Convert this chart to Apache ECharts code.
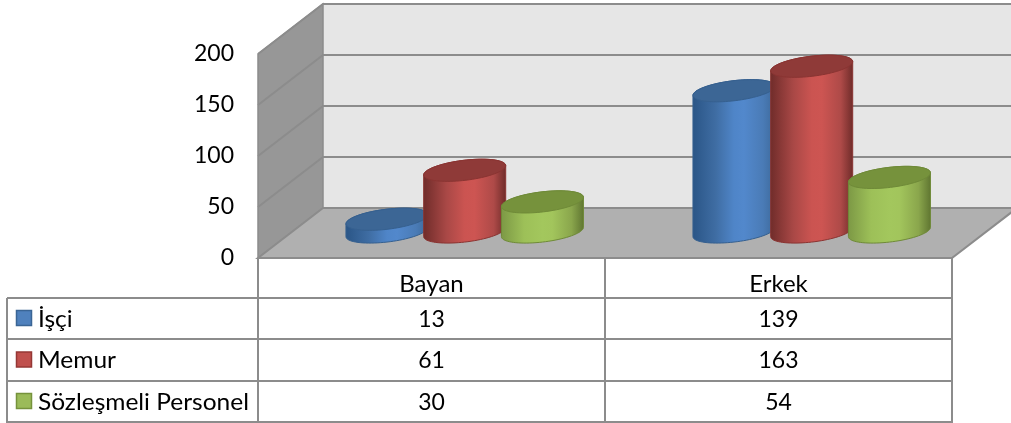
<!DOCTYPE html>
<html lang="tr">
<head>
    <meta charset="utf-8">
    <title>Personel</title>
    <style>
        html, body { margin: 0; padding: 0; background: #fff; }
        #main { width: 1011px; height: 423px; }
    </style>
    <script src="https://cdn.jsdelivr.net/npm/echarts@6/dist/echarts.min.js"></script>
</head>
<body>
<div id="main"></div>
<script type="text/javascript">
    var categories = ['Bayan', 'Erkek'];
    var seriesNames = ['İşçi', 'Memur', 'Sözleşmeli Personel'];
    var isciValues = [13, 139];
    var memurValues = [61, 163];
    var sozlesmeliValues = [30, 54];
    var yTicks = [0, 50, 100, 150, 200];

    var FONT = 'Lato';
    var FONT_SIZE = 23;
    var gridLine = '#8c8c8c';

    // front edge of the floor, the walls sit behind it
    var gridLeft = 258, gridTop = 54, gridW = 694, gridH = 204;
    var depthX = 65, depthY = -50;

    // table rows
    var tableLeft = 7;
    var rowY = [298, 339, 381, 422];
    var colX = [258, 605, 952];

    var skins = [
        {
            top: '#3c6695', edge: '#36608f', swatch: '#4f81bd', swatchEdge: '#3a6595',
            body: ['#2a5586', '#3f6da3', '#4f85c8', '#5288cc', '#4a7bb6', '#3c6899']
        },
        {
            top: '#8f3a38', edge: '#8a3432', swatch: '#c0504d', swatchEdge: '#953735',
            body: ['#6f2c2a', '#a94846', '#cb5451', '#cd5552', '#ae4a48', '#6e2b29']
        },
        {
            top: '#76923c', edge: '#6f8a38', swatch: '#9bbb59', swatchEdge: '#76923c',
            body: ['#7c9845', '#9dc058', '#a3c75d', '#a2c55c', '#8aa64c', '#5f7531']
        }
    ];

    // one point on the tilted ellipse at angle t
    function ellipsePoint(cx, cy, rx, ry, tilt, t) {
        var a = rx * Math.cos(t), b = ry * Math.sin(t);
        return [
            cx + a * Math.cos(tilt) - b * Math.sin(tilt),
            cy - a * Math.sin(tilt) - b * Math.cos(tilt)
        ];
    }

    function cylinder(seriesIndex) {
        var skin = skins[seriesIndex];
        return function (params, api) {
            var base = api.coord([api.value(0), 0]);
            var head = api.coord([api.value(0), api.value(1)]);
            var band = api.size([1, 0])[0];
            var rx = band * 0.119, ry = 10, tilt = 0.12;
            var cx = base[0] + depthX / 2 + 0.7 + (seriesIndex - 1) * band * 0.224;
            var yBase = base[1] + depthY / 2 - 1, yHead = head[1] + depthY / 2 - 0.5;

            var t0 = Math.atan2(-ry * Math.sin(tilt), rx * Math.cos(tilt));
            var outline = [], lid = [], i;
            for (i = 0; i <= 40; i++) {
                outline.push(ellipsePoint(cx, yHead, rx, ry, tilt, t0 + Math.PI * i / 40));
            }
            for (i = 0; i <= 40; i++) {
                outline.push(ellipsePoint(cx, yBase, rx, ry, tilt, t0 + Math.PI + Math.PI * i / 40));
            }
            for (i = 0; i < 80; i++) {
                lid.push(ellipsePoint(cx, yHead, rx, ry, tilt, Math.PI * i / 40));
            }
            return {
                type: 'group',
                children: [{
                    type: 'polygon',
                    shape: {points: outline},
                    style: {
                        fill: {
                            type: 'linear', x: 0, y: 0, x2: 1, y2: 0,
                            colorStops: skin.body.map(function (c, k) {
                                return {offset: [0, 0.28, 0.5, 0.62, 0.85, 1][k], color: c};
                            })
                        },
                        stroke: skin.edge, lineWidth: 1
                    }
                }, {
                    type: 'polygon',
                    shape: {points: lid},
                    style: {fill: skin.top, stroke: skin.edge, lineWidth: 1}
                }]
            };
        };
    }

    // back wall, side wall, floor and their gridlines
    function walls(params, api) {
        var x0 = gridLeft, x1 = gridLeft + gridW, yZero = api.coord([0, 0])[1];
        var yMax = api.coord([0, 200])[1];
        var children = [];
        children.push({
            type: 'polygon',
            shape: {points: [[x0 + depthX, yMax + depthY], [x1 + depthX, yMax + depthY], [x1 + depthX, yZero + depthY], [x0 + depthX, yZero + depthY]]},
            style: {fill: '#e6e6e6'}
        });
        children.push({
            type: 'polygon',
            shape: {points: [[x0, yMax], [x0 + depthX, yMax + depthY], [x0 + depthX, yZero + depthY], [x0, yZero]]},
            style: {fill: '#979797', stroke: gridLine, lineWidth: 1.5}
        });
        children.push({
            type: 'polygon',
            shape: {points: [[x0, yZero], [x1, yZero], [x1 + depthX, yZero + depthY], [x0 + depthX, yZero + depthY]]},
            style: {fill: '#b0b0b0', stroke: gridLine, lineWidth: 2}
        });
        yTicks.forEach(function (v) {
            var y = api.coord([0, v])[1];
            if (v > 0) {
                children.push({
                    type: 'polyline',
                    shape: {points: [[x0, y], [x0 + depthX, y + depthY], [x1 + depthX, y + depthY]]},
                    style: {fill: null, stroke: gridLine, lineWidth: 2}
                });
            }
        });
        return {type: 'group', children: children};
    }

    var tableGraphics = [];

    function tableLine(x1, y1, x2, y2) {
        tableGraphics.push({
            type: 'line',
            shape: {x1: x1, y1: y1, x2: x2, y2: y2},
            style: {stroke: gridLine, lineWidth: 2}
        });
    }

    rowY.forEach(function (y) { tableLine(tableLeft, y, colX[2], y); });
    colX.forEach(function (x) { tableLine(x, gridTop + gridH, x, rowY[3] + 1); });
    tableLine(tableLeft, rowY[0], tableLeft, rowY[3] + 1);

    [isciValues, memurValues, sozlesmeliValues].forEach(function (values, r) {
        var midY = (rowY[r] + rowY[r + 1]) / 2;
        tableGraphics.push({
            type: 'rect',
            shape: {x: 16.5, y: midY - 8, width: 15, height: 15},
            style: {fill: skins[r].swatch, stroke: skins[r].swatchEdge, lineWidth: 1.5}
        });
        // the labels are a bit wider in the original, stretch instead of growing the font
        tableGraphics.push({
            type: 'text', x: 38, y: midY + 1, scaleX: 1.065,
            style: {text: seriesNames[r], font: FONT_SIZE + 'px "' + FONT + '"', fill: '#000', verticalAlign: 'middle'}
        });
        values.forEach(function (v, c) {
            tableGraphics.push({
                type: 'text', x: (colX[c] + colX[c + 1]) / 2, y: midY + 1,
                style: {text: String(v), font: FONT_SIZE + 'px "' + FONT + '"', fill: '#000', align: 'center', verticalAlign: 'middle'}
            });
        });
    });

    var myChart = echarts.init(document.getElementById('main'));
    var option = {
        animation: false,
        textStyle: {fontFamily: FONT},
        grid: {left: gridLeft, top: gridTop, width: gridW, height: gridH},
        xAxis: {
            type: 'category',
            data: categories,
            axisTick: {show: false},
            axisLine: {show: false},
            axisLabel: {color: '#000', fontSize: 24, margin: 14, fontFamily: FONT}
        },
        yAxis: {
            type: 'value',
            min: 0,
            max: 200,
            interval: 50,
            axisLine: {show: false},
            axisTick: {show: false},
            splitLine: {show: false},
            axisLabel: {color: '#000', fontSize: FONT_SIZE, margin: 24, padding: [6, 0, 0, 0], fontFamily: FONT}
        },
        graphic: tableGraphics,
        series: [
            {
                type: 'custom', name: 'walls', z: 1, silent: true, clip: false,
                renderItem: walls, data: [[0, 0]]
            },
            {
                type: 'custom', name: seriesNames[0], z: 2, clip: false,
                renderItem: cylinder(0),
                data: isciValues.map(function (v, i) { return [i, v]; })
            },
            {
                type: 'custom', name: seriesNames[1], z: 3, clip: false,
                renderItem: cylinder(1),
                data: memurValues.map(function (v, i) { return [i, v]; })
            },
            {
                type: 'custom', name: seriesNames[2], z: 4, clip: false,
                renderItem: cylinder(2),
                data: sozlesmeliValues.map(function (v, i) { return [i, v]; })
            }
        ]
    };

    myChart.setOption(option);
</script>
</body>
</html>
